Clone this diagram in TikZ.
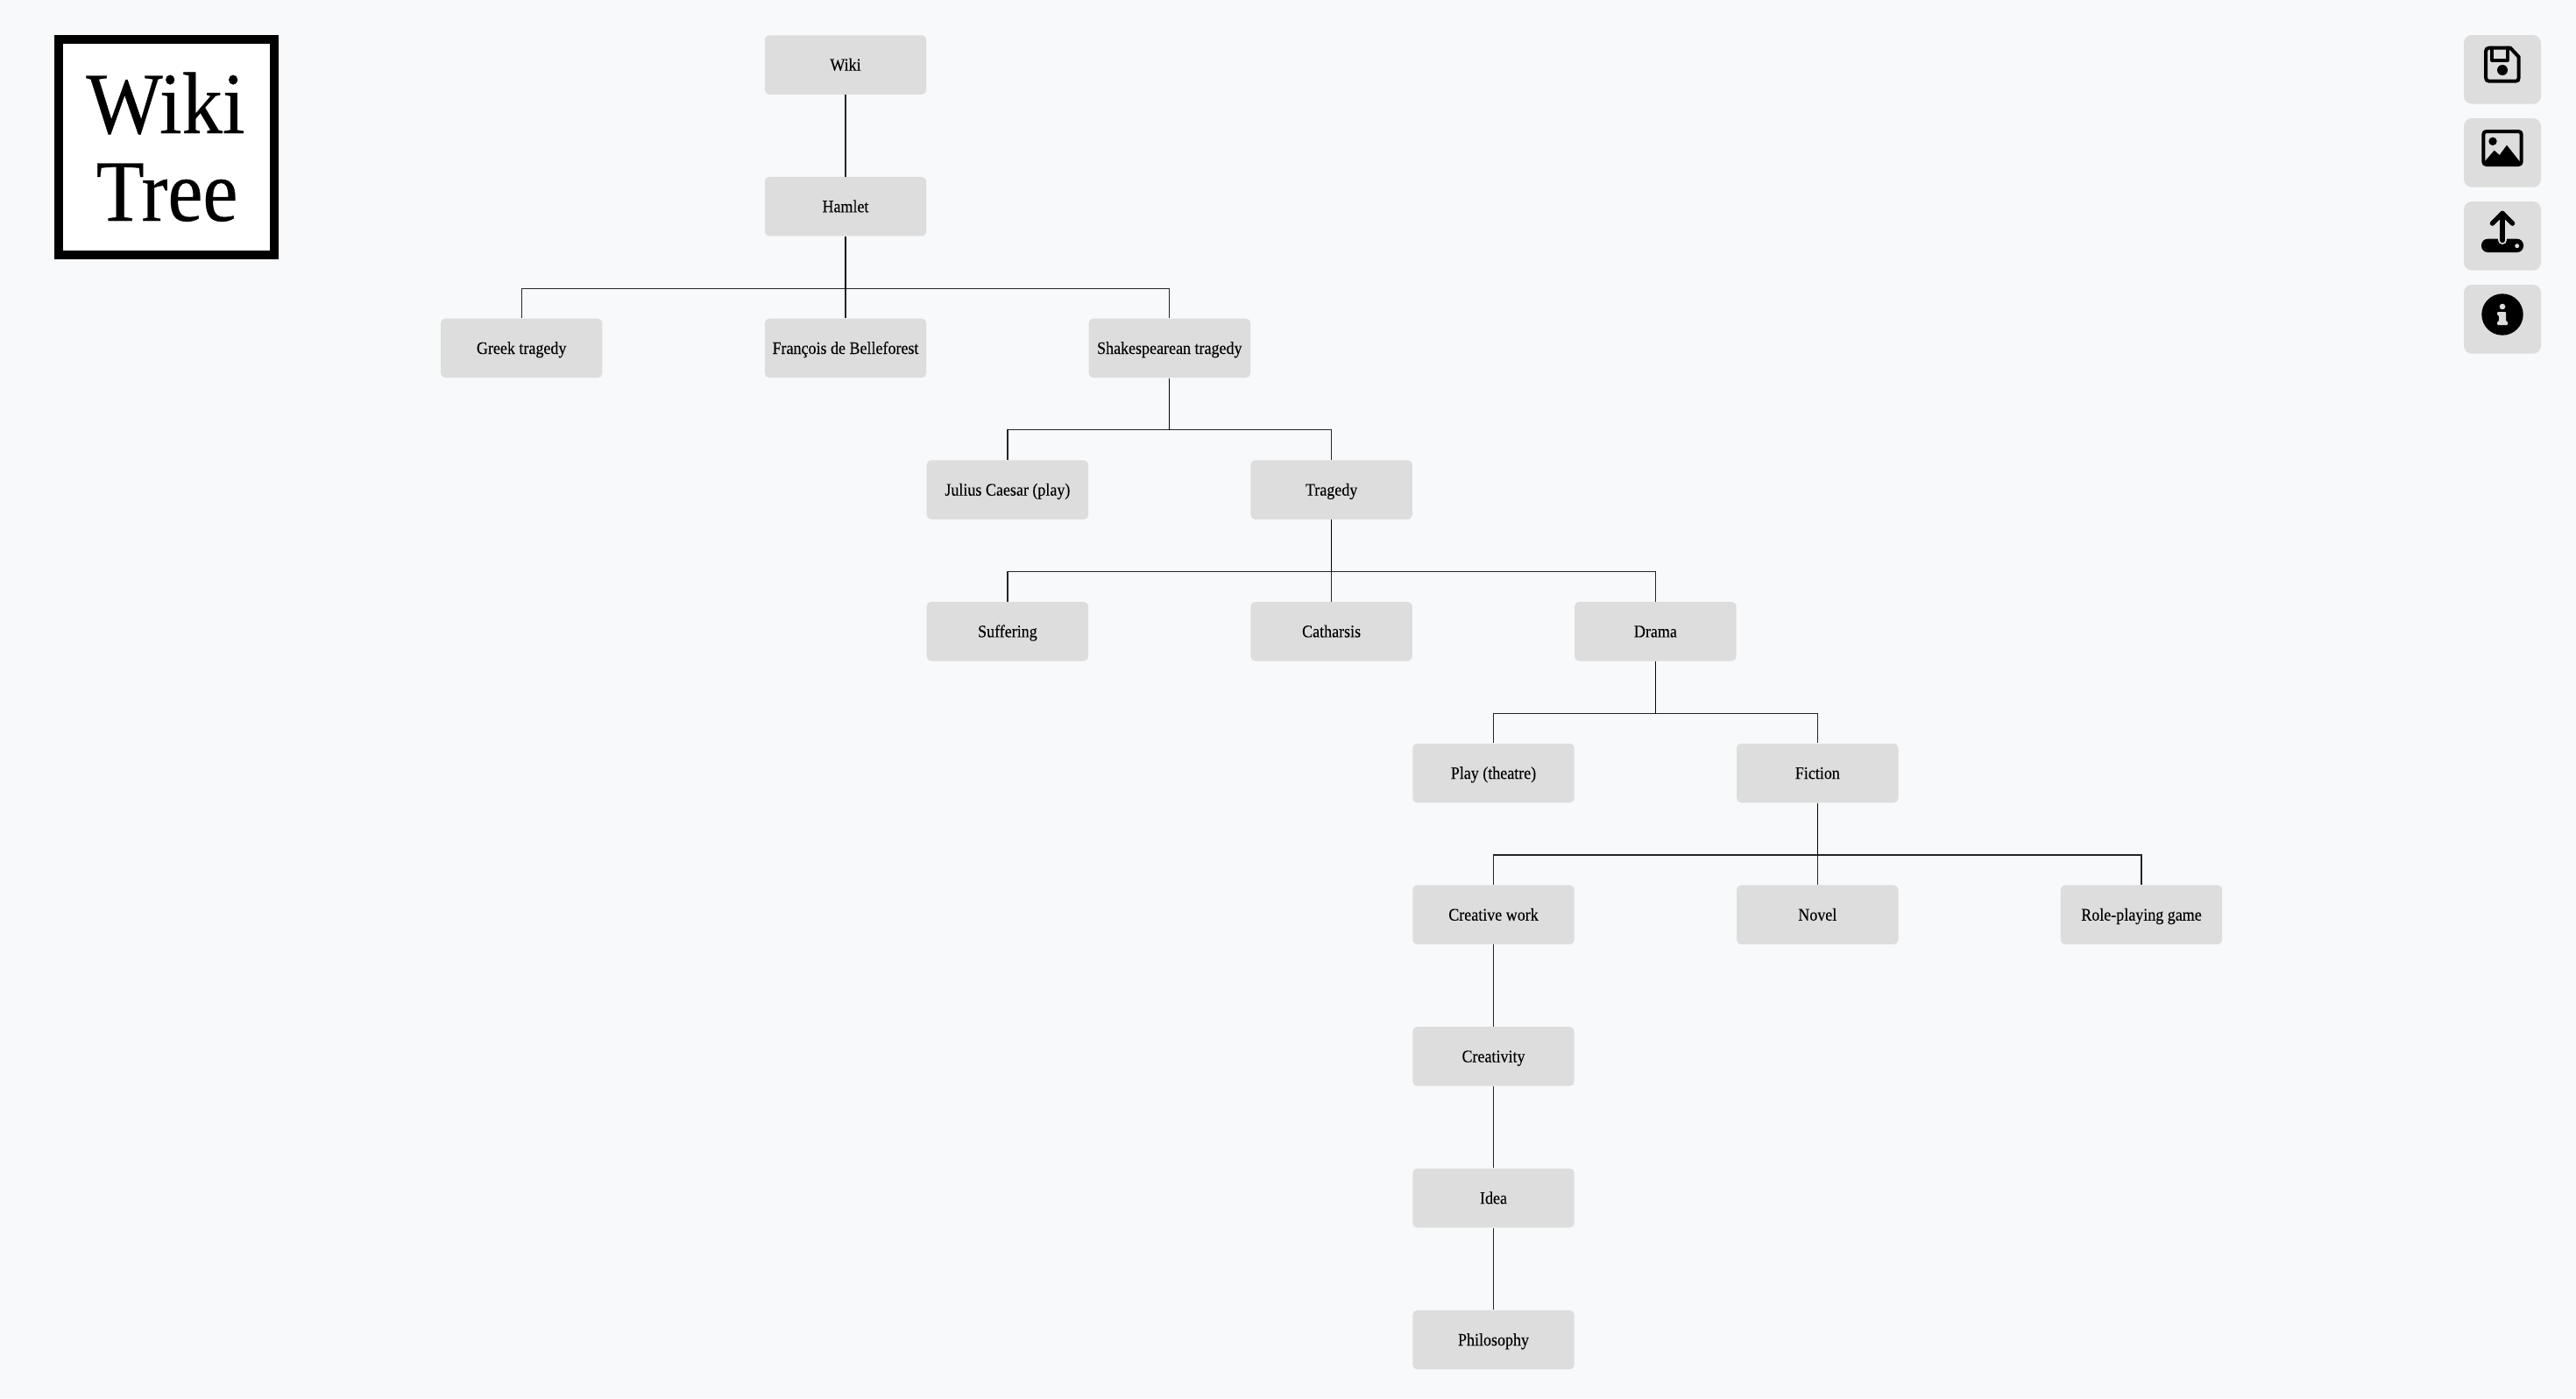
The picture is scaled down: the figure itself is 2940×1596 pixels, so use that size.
\documentclass[tikz,border=0pt]{standalone}
\usepackage{fontspec}
\setmainfont[FakeStretch=0.9,FakeBold=0.12]{Liberation Serif}
\newfontfamily\logowiki[FakeStretch=0.925,FakeBold=0.35]{Liberation Serif}
\newfontfamily\logotree[FakeStretch=0.9,FakeBold=0.35]{Liberation Serif}
\definecolor{pagebg}{HTML}{F8F9FB}
\definecolor{boxgrey}{HTML}{DDDDDD}
\tikzset{
  topic/.style={fill=boxgrey,rounded corners=2.5pt,minimum width=92.2pt,minimum height=33.75pt,inner sep=0pt,
    font=\fontsize{10}{12}\selectfont,text=black,text height=8.6pt,text depth=2pt,align=center},
  link/.style={draw=black,opacity=0.85,line width=0.6pt},
  toolbtn/.style={fill=boxgrey,rounded corners=4.5pt},
  iconline/.style={draw=black,line width=2pt,line join=round,line cap=round},
  logotext/.style={anchor=base,inner sep=0pt,text=black}
}
\begin{document}
\begin{tikzpicture}[x=0.5pt,y=-0.5pt]
\useasboundingbox (0,0) rectangle (2940,1596);
\fill[pagebg] (0,0) rectangle (2940,1596);
% logo
\fill[black] (62,40) rectangle (318,296);
\fill[white] (72,50) rectangle (308,286);
\node[logotext,font=\logowiki\fontsize{50}{50}\selectfont] (logoa) at (189,152) {Wiki};
\node[logotext,font=\logotree\fontsize{50}{50}\selectfont] (logob) at (190.5,252) {Tree};
% nodes
\node[topic] (wiki) at (965,74) {Wiki};
\node[topic] (hamlet) at (965,235.7) {Hamlet};
\node[topic] (greek) at (595.2,397.4) {Greek tragedy};
\node[topic] (franc) at (965,397.4) {François de Belleforest};
\node[topic] (shake) at (1334.8,397.4) {Shakespearean tragedy};
\node[topic] (julius) at (1149.9,559.1) {Julius Caesar (play)};
\node[topic] (tragedy) at (1519.6,559.1) {Tragedy};
\node[topic] (suffer) at (1149.9,720.8) {Suffering};
\node[topic] (cathar) at (1519.6,720.8) {Catharsis};
\node[topic] (drama) at (1889.4,720.8) {Drama};
\node[topic] (playth) at (1704.5,882.5) {Play (theatre)};
\node[topic] (fiction) at (2074.3,882.5) {Fiction};
\node[topic] (creative) at (1704.5,1044.2) {Creative work};
\node[topic] (novel) at (2074.3,1044.2) {Novel};
\node[topic] (rpg) at (2444,1044.2) {Role-playing game};
\node[topic] (creativity) at (1704.5,1205.9) {Creativity};
\node[topic] (idea) at (1704.5,1367.6) {Idea};
\node[topic] (philo) at (1704.5,1529.4) {Philosophy};
% connectors
\foreach \p/\c in {hamlet/greek,hamlet/franc,hamlet/shake,shake/julius,shake/tragedy,tragedy/suffer,tragedy/cathar,tragedy/drama,drama/playth,drama/fiction,fiction/creative,fiction/novel,fiction/rpg}
  \draw[link] (\p.south) -- ++(0,59.3) -| (\c.north);
\foreach \p/\c in {wiki/hamlet,creative/creativity,creativity/idea,idea/philo}
  \draw[link] (\p.south) -- (\c.north);
% toolbar buttons
\fill[toolbtn] (2812,40) rectangle (2900,118.7);
\fill[toolbtn] (2812,135) rectangle (2900,213.7);
\fill[toolbtn] (2812,230) rectangle (2900,308.7);
\fill[toolbtn] (2812,325) rectangle (2900,403.7);
% save icon
\draw[iconline] (2841,54.7) -- (2865,54.7) -- (2874.7,65) -- (2874.7,88.5) .. controls (2874.7,91.5) and (2873.5,92.7) .. (2871,92.7) -- (2841,92.7) .. controls (2838.5,92.7) and (2837,91.5) .. (2837,88.5) -- (2837,58.5) .. controls (2837,56) and (2838.5,54.7) .. (2841,54.7) -- cycle;
\draw[iconline] (2844,54.7) -- (2844,68.5) -- (2861.7,68.5) -- (2861.7,54.7);
\fill[black] (2856,80) circle [radius=6];
% image icon
\draw[iconline] (2838,150) -- (2874,150) .. controls (2876.5,150) and (2877.7,151.2) .. (2877.7,153.7) -- (2877.7,184.3) .. controls (2877.7,186.8) and (2876.5,188) .. (2874,188) -- (2838,188) .. controls (2835.5,188) and (2834.3,186.8) .. (2834.3,184.3) -- (2834.3,153.7) .. controls (2834.3,151.2) and (2835.5,150) .. (2838,150) -- cycle;
\fill[black] (2845,161.3) circle [radius=4.7];
\fill[black] (2836,184) -- (2846.7,171.7) -- (2852.7,177) -- (2861,165.7) -- (2877,186) -- (2877,189) -- (2836,189) -- cycle;
% upload icon
\fill[black,rounded corners=3.6pt] (2832,272.7) rectangle (2880,288);
\draw[line width=5pt,draw=boxgrey,line cap=round] (2856,262) -- (2856,274);
\draw[line width=3.2pt,draw=black,line cap=round] (2856,244) -- (2856,274);
\draw[line width=2.8pt,draw=black,line cap=round,line join=round] (2844.5,255) -- (2856,243.5) -- (2867.5,255);
\fill[boxgrey] (2872.7,280.7) circle [radius=2.5];
% info icon
\fill[black] (2856,359) circle [radius=23.7];
\fill[boxgrey] (2856,350) circle [radius=3.3];
\fill[boxgrey,rounded corners=0.5pt] (2850,356) -- (2860,356) -- (2860,367) -- (2862,367) -- (2862,371) -- (2850,371) -- (2850,367) -- (2852,367) -- (2852,360) -- (2850,360) -- cycle;
\end{tikzpicture}
\end{document}
